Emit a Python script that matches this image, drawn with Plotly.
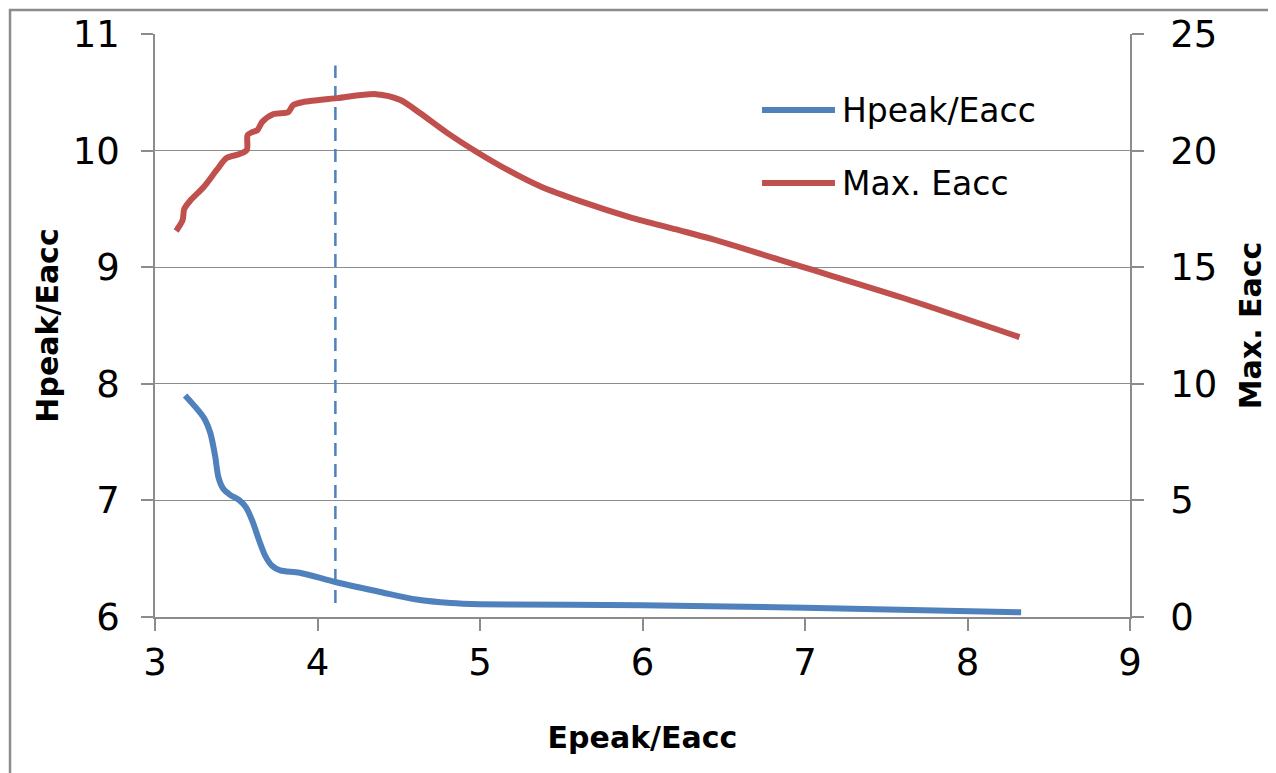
import plotly.graph_objects as go

# ---------------- data ----------------
h_x = [3.185, 3.30, 3.34, 3.37, 3.39, 3.42, 3.46, 3.52, 3.56, 3.60, 3.64, 3.68,
       3.72, 3.77, 3.89, 4.11, 4.40, 4.61, 4.82, 5.0, 6.0, 7.0, 8.33]
h_y = [7.90, 7.71, 7.58, 7.38, 7.20, 7.10, 7.05, 7.00, 6.94, 6.82, 6.66, 6.52,
       6.44, 6.40, 6.38, 6.30, 6.21, 6.15, 6.12, 6.11, 6.10, 6.08, 6.04]

e_x = [3.13, 3.17, 3.18, 3.22, 3.30, 3.38, 3.44, 3.52, 3.565, 3.57, 3.60, 3.63,
       3.66, 3.73, 3.82, 3.85, 3.91, 4.12, 4.36, 4.51, 4.63, 4.80, 4.98, 5.17,
       5.37, 5.62, 5.92, 6.23, 6.43, 7.0, 7.6, 8.32]
e_y = [16.55, 17.02, 17.5, 17.88, 18.44, 19.17, 19.68, 19.85, 20.03, 20.67, 20.8,
       20.88, 21.23, 21.57, 21.65, 21.95, 22.08, 22.25, 22.42, 22.17, 21.61, 20.75,
       19.94, 19.17, 18.47, 17.82, 17.15, 16.58, 16.2, 14.98, 13.69, 12.0]

marker_x = [4.11, 4.11]
marker_y = [6.12, 10.73]

x_ticks = [3, 4, 5, 6, 7, 8, 9]
left_ticks = [6, 7, 8, 9, 10, 11]
right_ticks = [0, 5, 10, 15, 20, 25]

BLUE = "#4F81BD"
RED = "#C0504D"
GRID = "#8C8C8C"
FONT = "DejaVu Sans"

fig = go.Figure()
fig.add_trace(go.Scatter(x=h_x, y=h_y, name="Hpeak/Eacc", mode="lines",
                         line=dict(color=BLUE, width=6, shape="spline", smoothing=0.8),
                         showlegend=False))
fig.add_trace(go.Scatter(x=e_x, y=e_y, name="Max. Eacc", mode="lines", yaxis="y2",
                         line=dict(color=RED, width=6, shape="spline", smoothing=0.8),
                         showlegend=False))
fig.add_trace(go.Scatter(x=marker_x, y=marker_y, mode="lines", showlegend=False,
                         line=dict(color=BLUE, width=2.5, dash="13px,8px")))

axis_common = dict(showline=True, linecolor=GRID, linewidth=1.5, ticks="outside",
                   ticklen=12, tickcolor=GRID, tickwidth=1.5,
                   tickfont=dict(family=FONT, size=37, color="#000"))

fig.update_layout(
    width=1276, height=773,
    margin=dict(l=147, r=154, t=26, b=164, autoexpand=False),
    paper_bgcolor="white", plot_bgcolor="white",
    font=dict(family=FONT, color="#000"),
    xaxis=dict(range=[3, 9], tickvals=x_ticks, showgrid=False, zeroline=False,
               ticklabelstandoff=0,
               title=dict(text="<b>Epeak/Eacc</b>", font=dict(family=FONT, size=30),
                          standoff=44),
               **axis_common),
    yaxis=dict(range=[6, 11], tickvals=left_ticks, showgrid=True, gridcolor=GRID,
               gridwidth=1.2, zeroline=False, ticklabelstandoff=14,
               title=dict(text="<b>Hpeak/Eacc</b>", font=dict(family=FONT, size=30),
                          standoff=5),
               **axis_common),
    yaxis2=dict(range=[0, 25], tickvals=right_ticks, overlaying="y", side="right",
                showgrid=False, zeroline=False, ticklabelstandoff=19,
                title=dict(text="<b>Max. Eacc</b>", font=dict(family=FONT, size=30),
                           standoff=24),
                **axis_common),
    showlegend=False,
)

# legend drawn as line samples + text
legend_items = [("Hpeak/Eacc", BLUE, 0.8696), ("Max. Eacc", RED, 0.7444)]
for label, col, yy in legend_items:
    fig.add_shape(type="line", xref="paper", yref="paper", x0=0.6226, x1=0.6974,
                  y0=yy, y1=yy, line=dict(color=col, width=6))
    fig.add_annotation(xref="paper", yref="paper", x=0.7026, y=yy, text=label,
                       showarrow=False, xanchor="left", yanchor="middle",
                       font=dict(family=FONT, size=33, color="#000"))

# outer chart frame
fig.add_shape(type="rect", xref="paper", yref="paper", x0=-0.1487, x1=1.3,
              y0=-0.5, y1=1.041, line=dict(color="#8C8C8C", width=2.5),
              fillcolor="rgba(0,0,0,0)", layer="above")

fig.write_html("out.html")
